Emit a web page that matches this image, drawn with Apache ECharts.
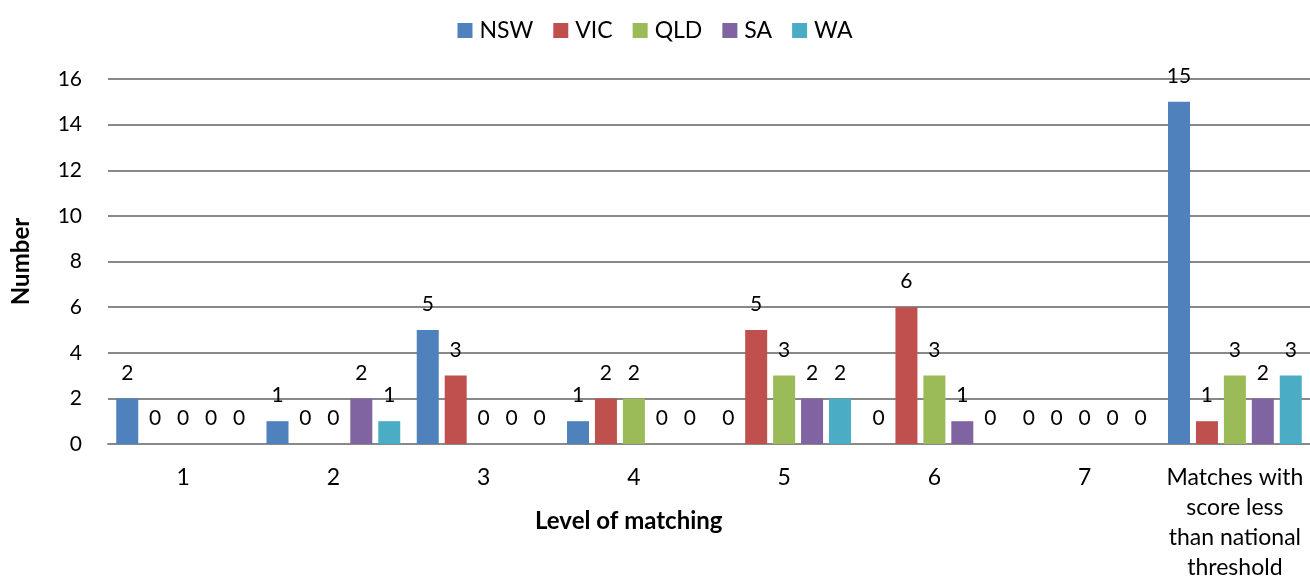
<!DOCTYPE html>
<html>
<head>
<meta charset="utf-8">
<script src="https://cdn.jsdelivr.net/npm/echarts@6/dist/echarts.min.js"></script>
<style>
    html, body { margin: 0; padding: 0; background: #fff; }
    #chart { width: 1310px; height: 585px; }
</style>
</head>
<body>
<div id="chart"></div>
<script>
// data
const categories = ['1', '2', '3', '4', '5', '6', '7', 'Matches with\nscore less\nthan national\nthreshold'];
const nsw = [2, 1, 5, 1, 0, 0, 0, 15];
const vic = [0, 0, 3, 2, 5, 6, 0, 1];
const qld = [0, 0, 0, 2, 3, 3, 0, 3];
const sa  = [0, 2, 0, 0, 2, 1, 0, 2];
const wa  = [0, 1, 0, 0, 2, 0, 0, 3];
const yTicks = [0, 2, 4, 6, 8, 10, 12, 14, 16];

const font = 'Lato';
const seriesList = [
    { name: 'NSW', data: nsw, color: '#4F81BD' },
    { name: 'VIC', data: vic, color: '#C0504D' },
    { name: 'QLD', data: qld, color: '#9BBB59' },
    { name: 'SA',  data: sa,  color: '#8064A2' },
    { name: 'WA',  data: wa,  color: '#4BACC6' }
];

var myChart = echarts.init(document.getElementById('chart'));
var option = {
    animation: false,
    textStyle: { fontFamily: font },
    title: {
        text: 'Level of matching',
        left: 535,
        top: 509,
        padding: 0,
        textStyle: { fontFamily: font, fontSize: 24, fontWeight: 'bold', color: '#000' }
    },
    legend: {
        top: 14,
        left: 'center',
        itemWidth: 15,
        itemHeight: 15,
        itemGap: 20,
        icon: 'rect',
        textStyle: { fontFamily: font, fontSize: 23, color: '#000', padding: [0, 0, 0, 2] }
    },
    grid: { left: 108, right: 0, top: 79, bottom: 141 },
    xAxis: {
        type: 'category',
        data: categories,
        axisTick: { show: false },
        axisLine: { lineStyle: { color: '#888', width: 2 } },
        axisLabel: { fontFamily: font, fontSize: 23, color: '#000', margin: 19, lineHeight: 30, interval: 0 }
    },
    yAxis: {
        type: 'value',
        min: yTicks[0],
        max: yTicks[yTicks.length - 1],
        interval: 2,
        name: 'Number',
        nameLocation: 'middle',
        nameGap: 75,
        nameRotate: 90,
        nameTextStyle: { fontFamily: font, fontSize: 24, fontWeight: 'bold', color: '#000' },
        axisLine: { show: false },
        axisTick: { show: false },
        axisLabel: { fontFamily: font, fontSize: 21, color: '#000', margin: 26 },
        splitLine: { lineStyle: { color: '#888', width: 2 } }
    },
    series: seriesList.map(s => ({
        name: s.name,
        type: 'bar',
        data: s.data,
        barWidth: 22,
        barGap: '27%',
        itemStyle: { color: s.color },
        label: {
            show: true,
            position: 'top',
            distance: 15,
            fontFamily: font,
            fontSize: 21,
            color: '#000'
        }
    }))
};
myChart.setOption(option);
</script>
</body>
</html>
